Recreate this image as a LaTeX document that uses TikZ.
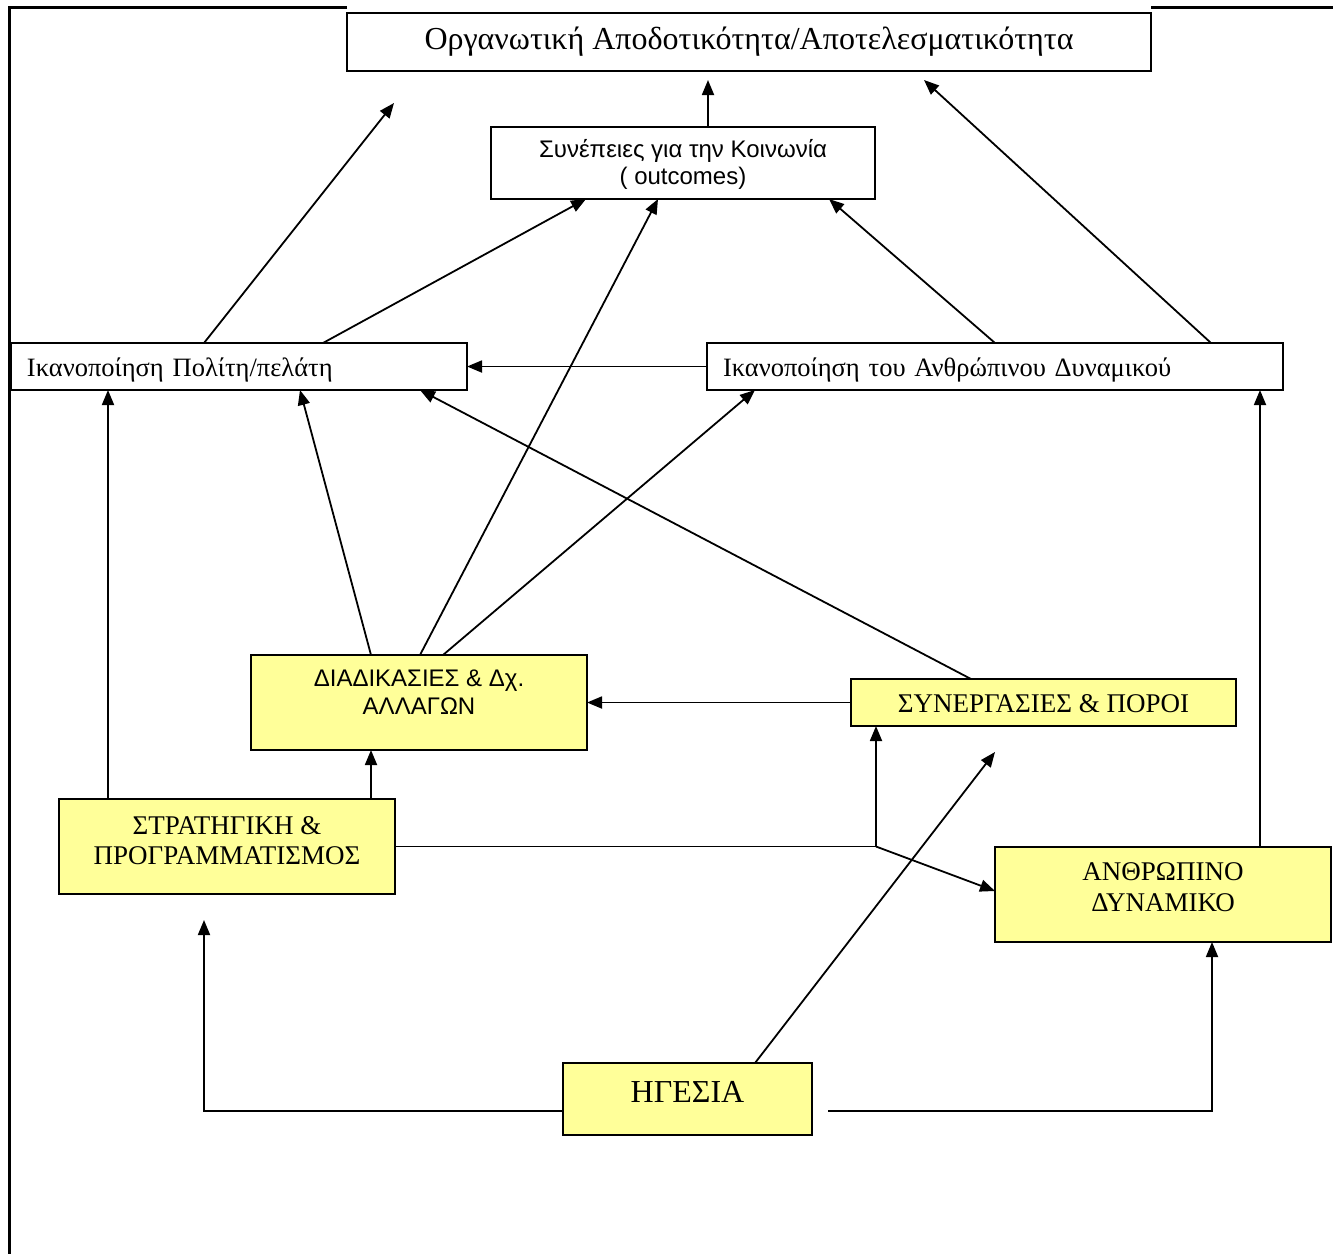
\documentclass[tikz,border=0pt]{standalone}
\usepackage{fontspec}
\setmainfont{Liberation Serif}
\setsansfont{Liberation Sans}
\usetikzlibrary{arrows.meta,positioning}

\begin{document}
\begin{tikzpicture}[x=1pt,y=-1pt]
			\definecolor{factorFill}{RGB}{255, 255, 153}
			\tikzstyle{plain}=[draw, line width=1.8pt, inner sep=0pt, outer sep=0pt, anchor=north west, align=center]
			\tikzstyle{factor}=[plain, fill=factorFill]
			\tikzstyle{arr}=[line width=1.8pt, -{Triangle[length=15pt,width=12pt]}]
			\tikzstyle{frame}=[line width=3pt]

			\useasboundingbox (0,0) rectangle (1333,1254);
			\draw [frame] (347,7) -- (9,7) -- (9,1254);
			\draw [frame] (1151,7) -- (1333,7);

			% results
			\node [plain, minimum width=804pt, text height=36pt, text depth=22pt, font=\fontsize{32}{38}\selectfont] (org) at (347,13) {Οργανωτική Αποδοτικότητα/Αποτελεσματικότητα};
			\node [plain, minimum width=384pt, text height=57pt, text depth=15pt, font=\sffamily\fontsize{24}{27}\selectfont] (synep) at (491,127) {Συνέπειες για την Κοινωνία\\( outcomes)};
			\node [plain, text width=424pt, inner xsep=16pt, align=left, text height=33pt, text depth=14pt, font=\fontsize{26.5}{31}\selectfont] (polit) at (11,343) {Ικανοποίηση Πολίτη/πελάτη};
			\node [plain, text width=544pt, inner xsep=16pt, align=left, text height=33pt, text depth=14pt, font=\fontsize{26.5}{31}\selectfont] (anthr) at (707,343) {Ικανοποίηση του Ανθρώπινου Δυναμικού};

			% enablers
			\node [factor, minimum width=336pt, text height=59pt, text depth=36pt, font=\sffamily\fontsize{24}{28}\selectfont] (diad) at (251,655) {ΔΙΑΔΙΚΑΣΙΕΣ \& Δχ.\\ΑΛΛΑΓΩΝ};
			\node [factor, minimum width=385pt, text height=33pt, text depth=14pt, font=\fontsize{27}{31}\selectfont] (synerg) at (851,679) {ΣΥΝΕΡΓΑΣΙΕΣ \& ΠΟΡΟΙ};
			\node [factor, minimum width=336pt, text height=65pt, text depth=30pt, font=\fontsize{27}{30}\selectfont] (strat) at (59,799) {ΣΤΡΑΤΗΓΙΚΗ \&\\ΠΡΟΓΡΑΜΜΑΤΙΣΜΟΣ};
			\node [factor, minimum width=336pt, text height=64pt, text depth=31pt, font=\fontsize{27}{31}\selectfont] (dynam) at (995,847) {ΑΝΘΡΩΠΙΝΟ\\ΔΥΝΑΜΙΚΟ};
			\node [factor, minimum width=249pt, text height=39pt, text depth=33pt, font=\fontsize{32}{38}\selectfont] (igesia) at (563,1063) {ΗΓΕΣΙΑ};

			\coordinate (freeA) at (394,103);
			\coordinate (freeB) at (204,920);
			\coordinate (freeC) at (995,752);
			\coordinate (synergIn) at ([xshift=25pt]synerg.south west);
			\coordinate (junc) at (synergIn |- strat.east);

			% upper level
			\draw [arr] ([xshift=193pt]polit.north west) -- (freeA);
			\draw [arr] ([xshift=312pt]polit.north west) -- ([xshift=95pt]synep.south west);
			\draw [arr] ([xshift=217pt]synep.north west) -- ([xshift=361pt,yshift=-9pt]org.south west);
			\draw [arr] ([xshift=288pt]anthr.north west) -- ([xshift=338pt]synep.south west);
			\draw [arr] ([xshift=504pt]anthr.north west) -- ([xshift=577pt,yshift=-9pt]org.south west);
			\draw [arr] (anthr.west) -- (polit.east);

			% middle level
			\draw [arr] ([xshift=169pt]diad.north west) -- ([xshift=167pt]synep.south west);
			\draw [arr] ([xshift=120pt]diad.north west) -- ([xshift=289pt]polit.south west);
			\draw [arr] ([xshift=192pt]diad.north west) -- ([xshift=48pt]anthr.south west);
			\draw [arr] ([xshift=120pt]synerg.north west) -- ([xshift=409pt]polit.south west);
			\draw [arr] (synerg.west) -- (diad.east);
			\draw [arr] ([xshift=49pt]strat.north west) -- ([xshift=97pt]polit.south west);
			\draw [arr] ([xshift=312pt]strat.north west) -- ([xshift=120pt]diad.south west);
			\draw [arr] (strat.east) -- (junc) -- (synergIn);
			\draw [arr] (junc) -- ([yshift=-44pt]dynam.north west);
			\draw [arr] ([xshift=265pt]dynam.north west) -- ([xshift=-23pt]anthr.south east);

			% leadership
			\draw [arr] ([yshift=-12pt]igesia.west) -| (freeB);
			\draw [arr] ([xshift=192pt]igesia.north west) -- (freeC);
			\draw [arr] ([xshift=16pt,yshift=-12pt]igesia.east) -| ([xshift=217pt]dynam.south west);
		\end{tikzpicture}
\end{document}
